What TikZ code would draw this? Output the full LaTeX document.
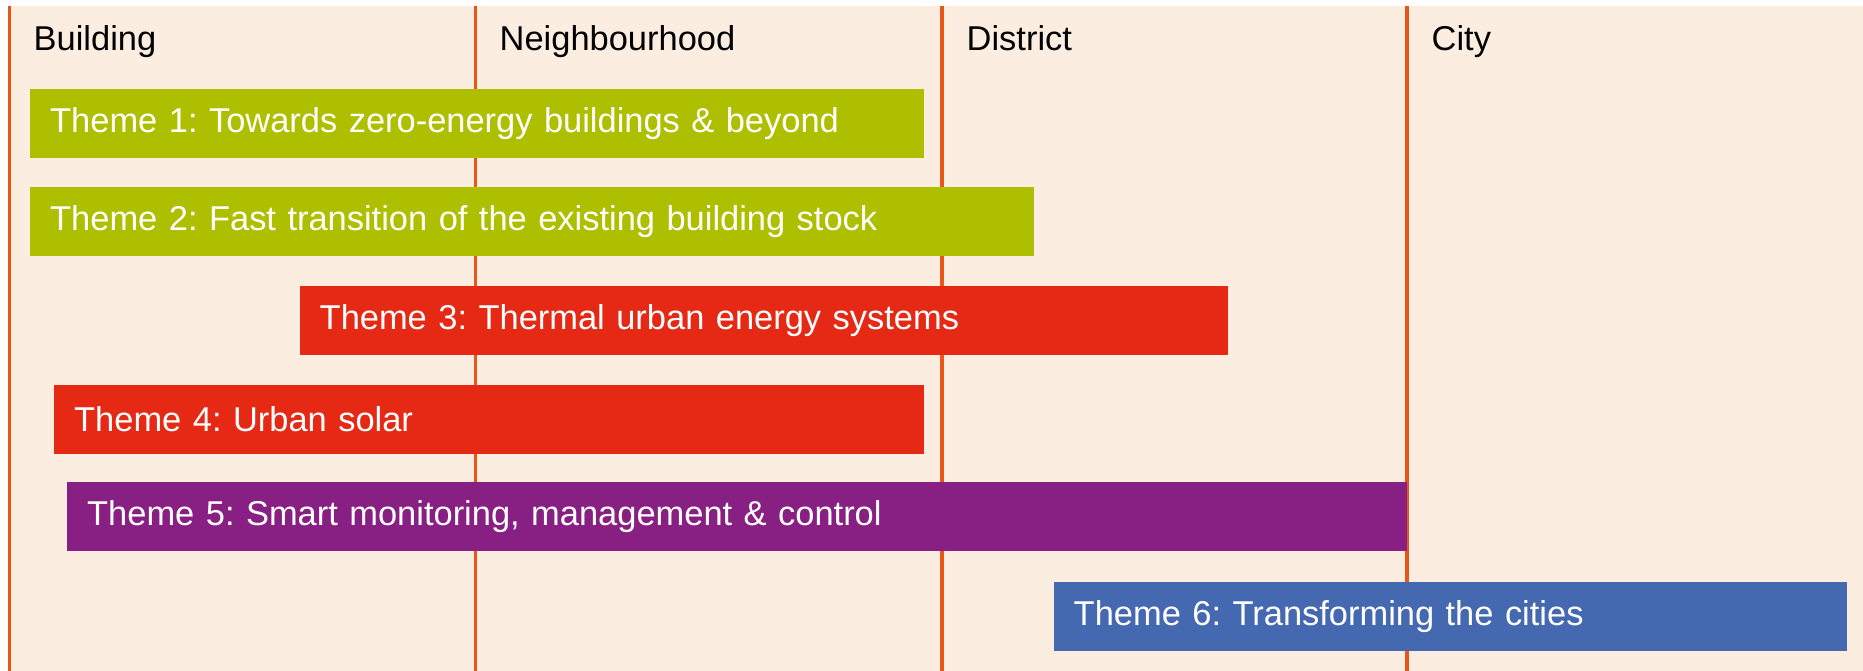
\documentclass[tikz,border=0pt]{standalone}
\usepackage{fontspec}
\setmainfont{Liberation Sans}
\frenchspacing
\usetikzlibrary{positioning}
\definecolor{paper}{RGB}{252,237,225}
\definecolor{divider}{RGB}{232,86,26}
\definecolor{themegreen}{RGB}{174,191,0}
\definecolor{themered}{RGB}{229,41,21}
\definecolor{themepurple}{RGB}{136,31,130}
\definecolor{themeblue}{RGB}{68,105,176}
\tikzset{scale label/.style={anchor=base west,inner sep=0pt,font=\fontsize{9.8}{11}\selectfont},}
\tikzset{theme bar/.style={anchor=north west,minimum height=0.69cm,inner xsep=0.2cm,inner ysep=0pt,align=left,text=white,font=\fontsize{9.8}{12}\selectfont},}

\begin{document}
\begin{tikzpicture}
       \useasboundingbox (0,0) rectangle (18.63,-6.71);
       \fill[paper] (0.08,-0.06) rectangle (18.63,-6.71);

       % scale dividers
       \coordinate (b top) at (0.095,-0.06);   \coordinate (b bot) at (0.095,-6.71);
       \coordinate (n top) at (4.755,-0.06);   \coordinate (n bot) at (4.755,-6.71);
       \coordinate (d top) at (9.42,-0.06);    \coordinate (d bot) at (9.42,-6.71);
       \coordinate (c top) at (14.07,-0.06);   \coordinate (c bot) at (14.07,-6.71);
       \draw[divider,line width=0.033cm] (b top) -- (b bot)
             (n top) -- (n bot)
             (d top) -- (d bot)
             (c top) -- (c bot);

       \node[scale label] (building) at (0.33,-0.51) {Building};
       \node[scale label] (neighbourhood) at (4.99,-0.51) {Neighbourhood};
       \node[scale label] (district) at (9.66,-0.51) {District};
       \node[scale label] (city) at (14.31,-0.51) {City};

       % themes
       \node[theme bar,fill=themegreen,text width=8.535cm] (t1) at (0.295,-0.88) {Theme 1: Towards zero-energy buildings \& beyond};
       \node[theme bar,fill=themegreen,text width=9.64cm] (t2) at (0.295,-1.865) {Theme 2: Fast transition of the existing building stock};
       \node[theme bar,fill=themered,text width=8.88cm] (t3) at (2.99,-2.85) {Theme 3: Thermal urban energy systems};
       \node[theme bar,fill=themered,text width=8.295cm] (t4) at (0.535,-3.84) {Theme 4: Urban solar};
       \node[theme bar,fill=themepurple,text width=13.0cm] (t5) at (0.665,-4.81) {Theme 5: Smart monitoring, management \& control};
       \node[theme bar,fill=themeblue,text width=7.53cm] (t6) at (10.53,-5.81) {Theme 6: Transforming the cities};
\end{tikzpicture}
\end{document}
